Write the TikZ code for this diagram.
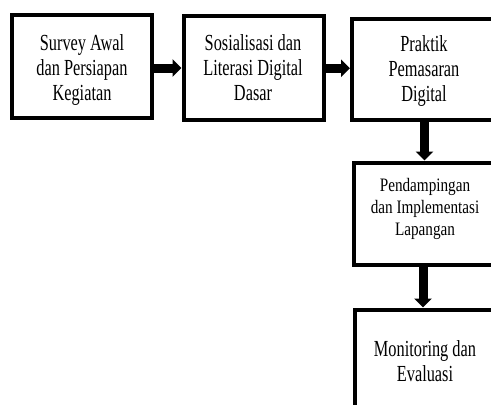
\documentclass[tikz,border=0pt]{standalone}
\usepackage{fontspec}
\newfontfamily\boxfont[FakeStretch=0.71]{Liberation Serif}
\newfontfamily\boxfontb[FakeStretch=0.80]{Liberation Serif}
\usetikzlibrary{arrows.meta}
\begin{document}
\begin{tikzpicture}[x=1pt,y=-1pt,
  stepbox/.style={draw=black,line width=4pt,fill=white,inner sep=0pt},
  txt/.style={align=center,inner sep=0pt,text depth=0pt,
    font=\boxfont\fontsize{23}{25}\selectfont},
  txtsmall/.style={align=center,inner sep=0pt,text depth=0pt,
    font=\boxfontb\fontsize{19}{22}\selectfont},
  arr/.style={line width=9pt,draw=black,-{Triangle[length=9pt,width=17pt]}}]
\useasboundingbox (0,0) rectangle (491,405);
\clip (0,0) rectangle (491,405);
\node[stepbox,minimum width=140pt,minimum height=103pt] (b1) at (81.5,66.5) {};
\node[stepbox,minimum width=140pt,minimum height=103.5pt] (b2) at (253.5,67.75) {};
\node[stepbox,minimum width=142pt,minimum height=100.5pt] (b3) at (423,69.25) {};
\node[stepbox,minimum width=142pt,minimum height=102pt] (b4) at (425,213.5) {};
\node[stepbox,minimum width=142pt,minimum height=117pt] (b5) at (426,368) {};
\node[txt,text height=65pt] (t1) at (82,67.5) {Survey Awal\\dan Persiapan\\Kegiatan};
\node[txt,text height=65pt] (t2) at (253,68) {Sosialisasi dan\\Literasi Digital\\Dasar};
\node[txt,text height=65pt] (t3) at (424,68.5) {Praktik\\Pemasaran\\Digital};
\node[txtsmall,text height=57pt] (t4) at (425,206.5) {Pendampingan\\dan Implementasi\\Lapangan};
\node[txt,text height=40pt] (t5) at (425,361) {Monitoring dan\\Evaluasi};
\draw[arr] ([yshift=-1.5pt]b1.east) -- ([yshift=-1.5pt]b1.east -| b2.west);
\draw[arr] ([yshift=-0.5pt]b2.east) -- ([yshift=-0.5pt]b2.east -| b3.west);
\draw[arr] ([xshift=1.5pt]b3.south) -- ([xshift=1.5pt]b3.south |- b4.north);
\draw[arr] ([xshift=-2pt]b4.south) -- ([xshift=-2pt]b4.south |- b5.north);
\end{tikzpicture}
\end{document}
